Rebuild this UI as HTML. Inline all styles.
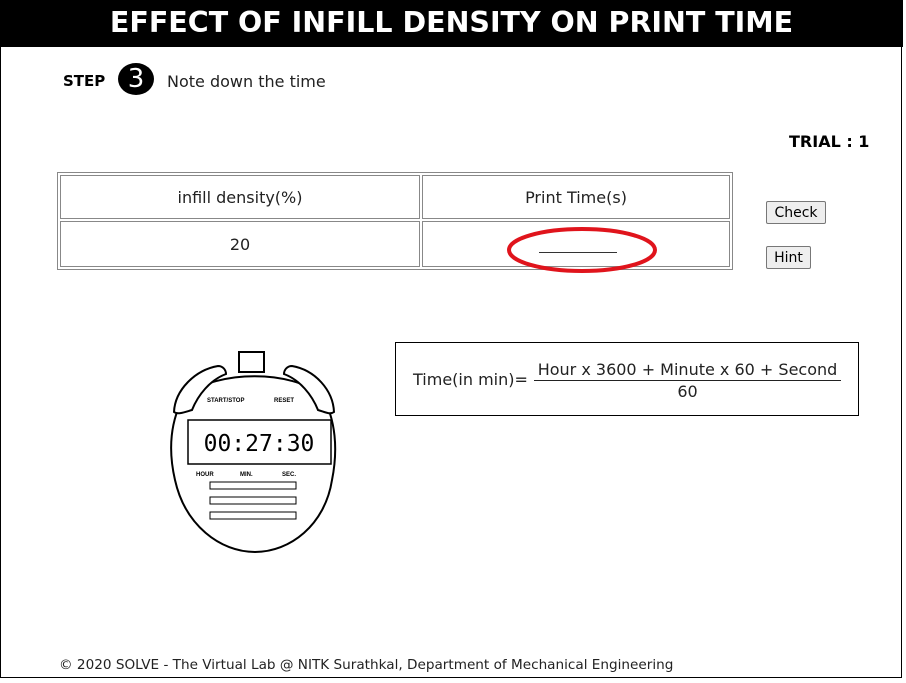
<!DOCTYPE html>
<html><head><meta charset="utf-8"><style>
body{margin:0;width:906px;height:683px;background:#fff;font-family:"DejaVu Sans","Liberation Sans",sans-serif;position:relative;overflow:hidden}
.frame{position:absolute;left:0;top:0;width:900px;height:677px;border:1px solid #000;border-top:none;}
.hdr{position:absolute;left:0;top:0;width:903px;height:47px;background:#000;color:#fff;font-weight:bold;font-size:28.5px;text-align:center;line-height:46px;}
.abs{position:absolute}
table{border-collapse:separate;border-spacing:2px;border:1px solid #888}
td{border:1px solid #888;text-align:center;font-size:16px;color:#222}
button{position:absolute;font-family:"DejaVu Sans",sans-serif;font-size:14px;background:#eee;border:1px solid #777;border-radius:2px;padding:0}
</style></head><body>
<div class="frame"></div>
<div class="hdr">EFFECT OF INFILL DENSITY ON PRINT TIME</div>
<div class="abs" style="left:63px;top:72px;font-weight:bold;font-size:15px">STEP</div>
<div class="abs" style="left:118px;top:63px;width:36px;height:32px;border-radius:50%;background:#000;color:#fff;font-size:26px;text-align:center;line-height:32px">3</div>
<div class="abs" style="left:167px;top:72px;font-size:16px;color:#222">Note down the time</div>
<div class="abs" style="left:789px;top:132px;font-weight:bold;font-size:16px">TRIAL : 1</div>
<table class="abs" style="left:57px;top:172px">
<tr><td style="width:356px;height:40px">infill density(%)</td><td style="width:304px">Print Time(s)</td></tr>
<tr><td style="height:42px">20</td><td><div style="position:relative;height:42px"><div style="position:absolute;left:115px;top:29px;width:78px;border-top:1px solid #333"></div></div></td></tr>
</table>
<svg class="abs" style="left:505px;top:225px" width="155" height="52"><ellipse cx="77" cy="25" rx="73" ry="21" fill="none" stroke="#e0141c" stroke-width="4"/></svg>
<button style="left:766px;top:201px;width:60px;height:23px">Check</button>
<button style="left:766px;top:246px;width:45px;height:23px">Hint</button>
<div class="abs" style="left:395px;top:342px;width:462px;height:72px;border:1px solid #000">
<div class="abs" style="left:17px;top:27px;font-size:16px;color:#222">Time(in min)=</div>
<div class="abs" style="left:138px;top:17px;width:307px;font-size:16px;color:#222;text-align:center;border-bottom:1px solid #222;line-height:20px">Hour x 3600 + Minute x 60 + Second</div>
<div class="abs" style="left:138px;top:39px;width:307px;font-size:16px;color:#222;text-align:center">60</div>
</div>
<svg class="abs" style="left:160px;top:340px" width="190" height="220">
<g fill="#fff" stroke="#000" stroke-width="2">
<path d="M25 55 C10 80 8 110 15 140 C25 185 60 212 95 212 C130 212 165 185 172 140 C178 110 176 80 162 55 C130 30 60 30 25 55 Z"/>
<path d="M14 72 C15 50 35 30 58 26 C63 26 66 30 66 34 C50 40 38 55 32 70 C25 72 18 75 14 72 Z"/>
<path d="M174 72 C173 50 155 30 132 26 C127 26 124 30 124 34 C140 40 152 55 158 70 C165 72 170 75 174 72 Z"/>
<rect x="79" y="12" width="25" height="20"/>
<rect x="28" y="80" width="143" height="44" stroke-width="1.5"/>
</g>
<g fill="#fff" stroke="#000" stroke-width="1"><rect x="50" y="142" width="86" height="7"/><rect x="50" y="157" width="86" height="7"/><rect x="50" y="172" width="86" height="7"/></g>
<g font-size="6" font-weight="bold" font-family="Liberation Sans,sans-serif"><text x="47" y="62">START/STOP</text><text x="114" y="62">RESET</text><text x="36" y="136">HOUR</text><text x="80" y="136">MIN.</text><text x="122" y="136">SEC.</text></g>
<text x="99" y="111" font-size="23" text-anchor="middle" font-family="DejaVu Sans Mono,monospace">00:27:30</text>
</svg>
<div class="abs" style="left:59px;top:657px;font-size:13.6px;color:#222">© 2020 SOLVE - The Virtual Lab @ NITK Surathkal, Department of Mechanical Engineering</div>
</body></html>
